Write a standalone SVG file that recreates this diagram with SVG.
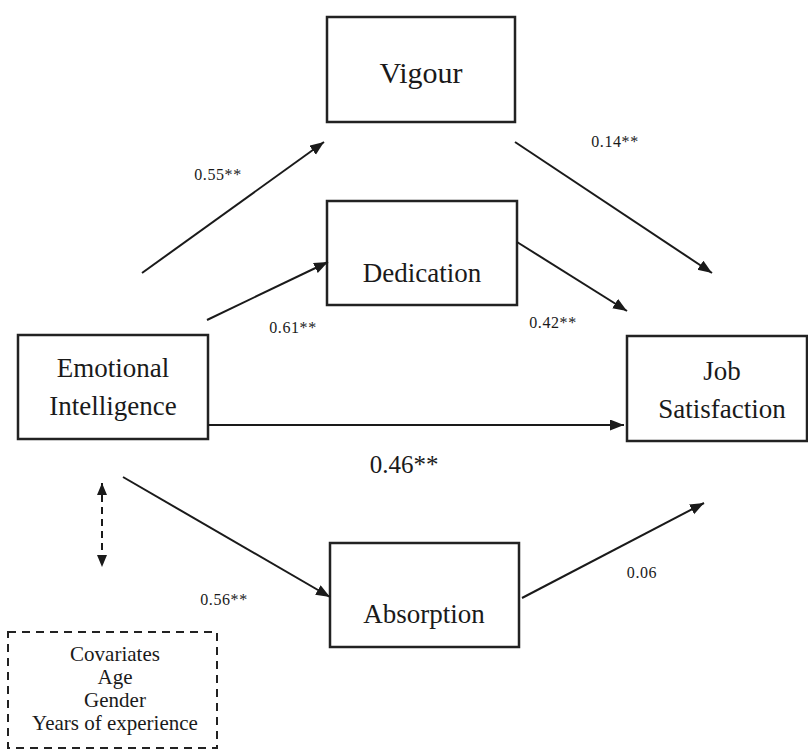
<svg xmlns="http://www.w3.org/2000/svg" width="808" height="751" viewBox="0 0 808 751" font-family="'Liberation Serif', 'Times New Roman', serif">
<defs>
<marker id="ah" markerUnits="userSpaceOnUse" markerWidth="15" markerHeight="12" refX="14" refY="5.5" orient="auto">
<path d="M0,0 L14,5.5 L0,11 z" fill="#1a1a1a"/>
</marker>
<marker id="ahs" markerUnits="userSpaceOnUse" markerWidth="13" markerHeight="12" refX="12" refY="5" orient="auto-start-reverse">
<path d="M0,0 L12,5 L0,10 z" fill="#1a1a1a"/>
</marker>
</defs>
<style>
.box{fill:#fff;stroke:#222;stroke-width:2.5}
.dash{fill:none;stroke:#222;stroke-width:2;stroke-dasharray:8 6}
text{font-family:'Liberation Serif','Times New Roman',serif;fill:#1a1a1a;text-anchor:middle}
.big{font-size:27px}
.sm{font-size:16px;letter-spacing:0.6px}
.cov{font-size:21px}
.con{stroke:#1a1a1a;stroke-width:2;fill:none}
</style>
<rect width="808" height="751" fill="#fff"/>
<g id="vigour">
<rect class="box" x="327" y="17" width="188" height="105"/>
<text x="421" y="83" font-size="30">Vigour</text>
</g>
<g id="dedication">
<rect class="box" x="327" y="201" width="190" height="104"/>
<text class="big" x="422" y="282">Dedication</text>
</g>
<g id="emotional-intelligence">
<rect class="box" x="18" y="335" width="190" height="104"/>
<text class="big" x="113" y="377">Emotional</text>
<text class="big" x="113" y="415">Intelligence</text>
</g>
<g id="job-satisfaction">
<rect class="box" x="627" y="336" width="180" height="105"/>
<text class="big" x="722" y="380">Job</text>
<text class="big" x="722" y="418">Satisfaction</text>
</g>
<g id="absorption">
<rect class="box" x="330" y="543" width="189" height="104"/>
<text class="big" x="424" y="623">Absorption</text>
</g>
<g id="covariates">
<rect class="dash" x="8" y="632" width="209" height="116"/>
<text class="cov" x="115" y="661">Covariates</text>
<text class="cov" x="115" y="684">Age</text>
<text class="cov" x="115" y="707">Gender</text>
<text class="cov" x="115" y="730">Years of experience</text>
</g>
<g id="connectors">
<line class="con" x1="142" y1="273" x2="324" y2="142" marker-end="url(#ah)"/>
<line class="con" x1="207" y1="320" x2="328" y2="262" marker-end="url(#ah)"/>
<line class="con" x1="515" y1="142" x2="712" y2="273" marker-end="url(#ah)"/>
<line class="con" x1="517" y1="242" x2="627" y2="311" marker-end="url(#ah)"/>
<line class="con" x1="208" y1="425" x2="624" y2="425" marker-end="url(#ah)"/>
<line class="con" x1="123" y1="477" x2="330" y2="597" marker-end="url(#ah)"/>
<line class="con" x1="522" y1="598" x2="704" y2="503" marker-end="url(#ah)"/>
<line class="con" x1="102" y1="483" x2="102" y2="567" stroke-dasharray="7 5" marker-start="url(#ahs)" marker-end="url(#ahs)"/>
</g>
<g id="labels">
<text class="sm" x="218" y="180">0.55**</text>
<text class="sm" x="293" y="333">0.61**</text>
<text class="sm" x="615" y="147">0.14**</text>
<text class="sm" x="553" y="328">0.42**</text>
<text x="404" y="473" font-size="25">0.46**</text>
<text class="sm" x="224" y="605">0.56**</text>
<text class="sm" x="642" y="578">0.06</text>
</g>
</svg>
